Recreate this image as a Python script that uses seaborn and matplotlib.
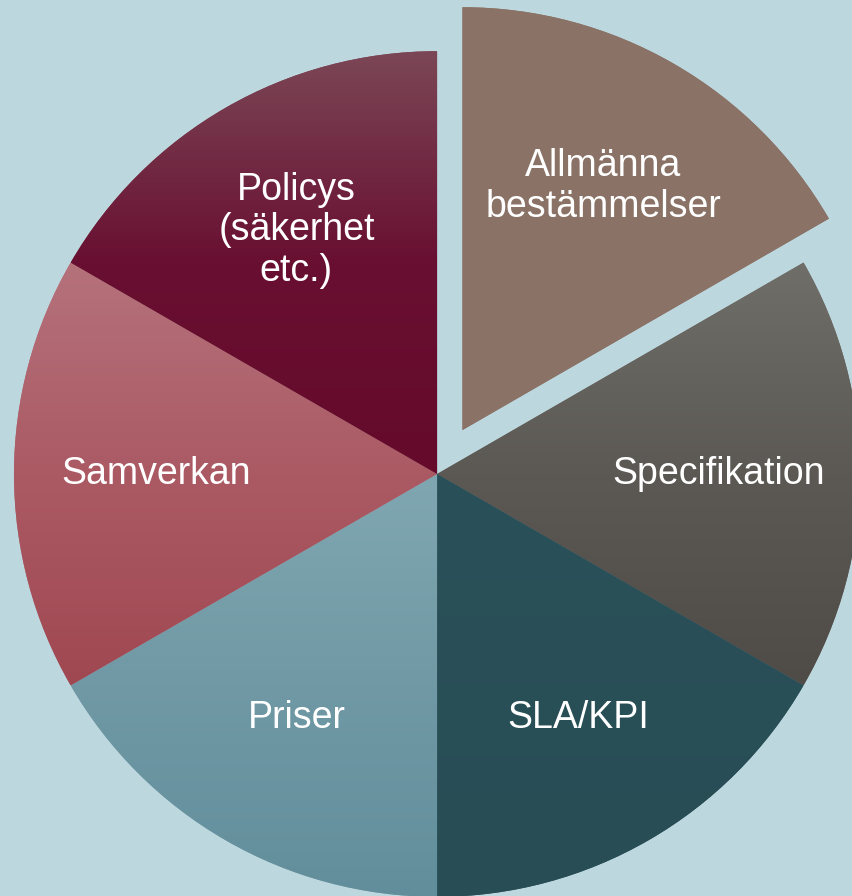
import numpy as np
import matplotlib
matplotlib.use("Agg")
import matplotlib.pyplot as plt
import seaborn as sns

# Data: six equal parts, first one pulled out
labels = ["Allmänna\nbestämmelser", "Specifikation", "SLA/KPI",
          "Priser", "Samverkan", "Policys\n(säkerhet\netc.)"]
sizes = [1, 1, 1, 1, 1, 1]
explode = [0.12, 0, 0, 0, 0, 0]

# top -> bottom gradient stops for each slice
grad_stops = [
    ["#8B7367", "#8A7266"],
    ["#6F6E69", "#5C5954", "#4F4B46"],
    ["#2A5059", "#284D55"],
    ["#80A7B1", "#7099A5", "#628E9B"],
    ["#B5727B", "#AB5A64", "#A04852"],
    ["#7B4756", "#690F31", "#650A2A"],
]
bg = "#BDD7DE"

sns.set_theme(style="white")
plt.rcParams["font.family"] = ["Liberation Sans", "DejaVu Sans"]

fig = plt.figure(figsize=(8.53, 8.96), dpi=100)
fig.patch.set_facecolor(bg)
ax = fig.add_axes([0, 0, 1, 1])
ax.set_facecolor(bg)

wedges, texts = ax.pie(
    sizes,
    labels=labels,
    colors=[g[0] for g in grad_stops],
    explode=explode,
    startangle=90,
    counterclock=False,
    labeldistance=0.665,
    radius=1,
    wedgeprops=dict(linewidth=0),
    textprops=dict(color="white", fontsize=27, ha="center", va="center",
                   linespacing=1.15),
)

# vertical gradient fill inside every slice
for w, stops in zip(wedges, grad_stops):
    bb = w.get_path().get_extents()
    cmap = sns.blend_palette(stops, n_colors=256, as_cmap=True)
    grad = np.linspace(0, 1, 256).reshape(-1, 1)
    im = ax.imshow(grad, cmap=cmap, aspect="auto", origin="upper",
                   extent=(bb.x0, bb.x1, bb.y0, bb.y1), zorder=w.get_zorder() + 0.1,
                   interpolation="bilinear")
    im.set_clip_path(w)

for t in texts:
    t.set_zorder(5)

ax.set_xlim(-1.033, 0.983)
ax.set_ylim(-0.998, 1.121)
ax.set_aspect("auto")
ax.axis("off")

fig.savefig("out.png", dpi=100, facecolor=bg)
